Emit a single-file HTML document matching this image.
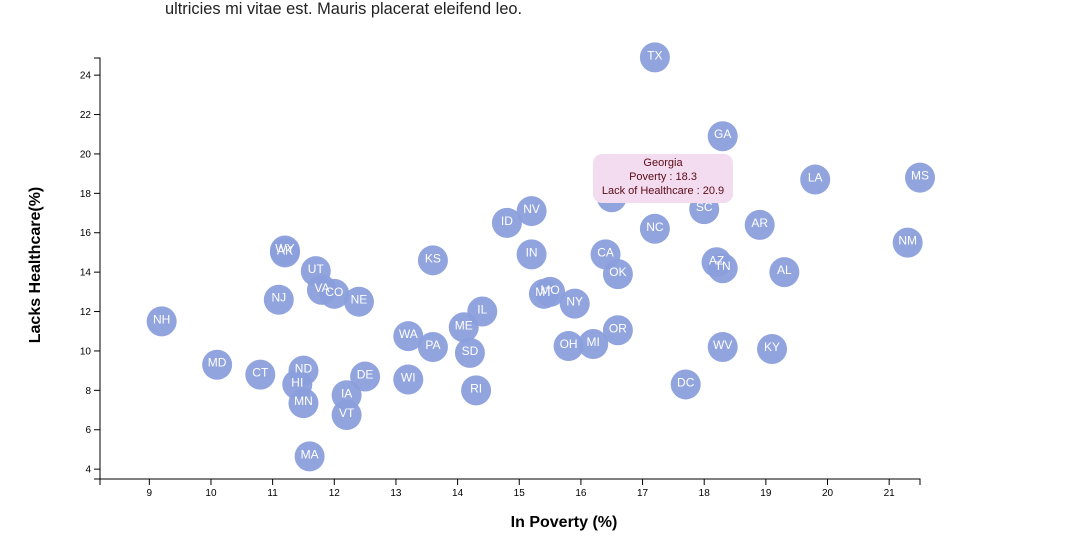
<!DOCTYPE html>
<html><head><meta charset="utf-8"><style>
body{margin:0;background:#fff;width:1086px;height:556px;overflow:hidden;font-family:"Liberation Sans",sans-serif;}
#intro{position:absolute;left:165px;top:0px;font-size:16.4px;color:#222;}
#tip{position:absolute;left:593px;top:154px;width:140px;height:49px;background:#f3dcf0;border-radius:9px;color:#5a0a14;font-size:11px;text-align:center;line-height:14px;padding-top:2px;box-sizing:border-box;}
</style></head><body>
<div id="intro">ultricies mi vitae est. Mauris placerat eleifend leo.</div>
<svg id="chart" width="1086" height="556" style="position:absolute;left:0;top:-7px"></svg>
<div id="tip">Georgia<br>Poverty : 18.3<br>Lack of Healthcare : 20.9</div>
<script>
const abbrs=["TX","GA","LA","MS","FL","NV","ID","SC","NC","AR","NM","WY","AK","KS","IN","CA","OK","AZ","TN","AL","UT","VA","CO","NJ","NE","NH","MT","MO","NY","IL","ME","WA","PA","SD","OH","MI","OR","WV","KY","MD","CT","ND","HI","MN","DE","IA","VT","WI","RI","DC","MA"];
const poverty=[17.2,18.3,19.8,21.5,16.5,15.2,14.8,18.0,17.2,18.9,21.3,11.2,11.2,13.6,15.2,16.4,16.6,18.2,18.3,19.3,11.7,11.8,12.0,11.1,12.4,9.2,15.4,15.5,15.9,14.4,14.1,13.2,13.6,14.2,15.8,16.2,16.6,18.3,19.1,10.1,10.8,11.5,11.4,11.5,12.5,12.2,12.2,13.2,14.3,17.7,11.6];
const healthcare=[24.9,20.9,18.7,18.8,17.8,17.1,16.5,17.2,16.2,16.4,15.5,15.1,15.0,14.6,14.9,14.9,13.9,14.5,14.2,14.0,14.05,13.1,12.9,12.6,12.5,11.5,12.9,13.0,12.4,12.0,11.2,10.75,10.2,9.9,10.25,10.35,11.05,10.2,10.1,9.3,8.8,9.0,8.3,7.35,8.7,7.75,6.75,8.55,8.0,8.3,4.65];
const xTicks=[9,10,11,12,13,14,15,16,17,18,19,20,21];
const yTicks=[4,6,8,10,12,14,16,18,20,22,24];
const NS="http://www.w3.org/2000/svg";
const svg=document.getElementById('chart');
const X0=100,X1=920,Y0=486,Y1=65;
const xMin=8.2,xMax=21.5,yMin=3.5,yMax=24.87;
const xs=v=>X0+(v-xMin)/(xMax-xMin)*(X1-X0);
const ys=v=>Y0-(v-yMin)/(yMax-yMin)*(Y0-Y1);
function mk(t,a,p){const e=document.createElementNS(NS,t);for(const k in a)e.setAttribute(k,a[k]);(p||svg).appendChild(e);return e;}
const xa=mk('g',{});


mk('path',{d:`M${X0},${Y0+6}V${Y0}H${X1}V${Y0+6}`,stroke:'#000',fill:'none'},xa);
xTicks.forEach(t=>{const x=xs(t);mk('line',{x1:x,x2:x,y1:Y0,y2:Y0+6,stroke:'#000'},xa);
const tx=mk('text',{x:x,y:Y0+17,'font-size':10,'text-anchor':'middle'},xa);tx.textContent=t;

});
const ya=mk('g',{});


mk('path',{d:`M${X0-6},${Y1}H${X0}V${Y0}H${X0-6}`,stroke:'#000',fill:'none'},ya);
yTicks.forEach(t=>{const y=ys(t);mk('line',{x1:X0-6,x2:X0,y1:y,y2:y,stroke:'#000'},ya);
const tx=mk('text',{x:X0-9,y:y+3.5,'font-size':10,'text-anchor':'end'},ya);tx.textContent=t;

});
const xt=mk('text',{x:564,y:534,'font-size':16,'font-weight':'bold','text-anchor':'middle'});xt.textContent='In Poverty (%)';


const yt=mk('text',{x:0,y:0,'font-size':16,'font-weight':'bold','text-anchor':'middle',transform:'translate(40,272) rotate(-90)'});yt.textContent='Lacks Healthcare(%)';


abbrs.forEach((a,i)=>{const cx=xs(poverty[i]),cy=ys(healthcare[i]);
const c=mk('circle',{cx:cx,cy:cy,r:15,fill:'#8b9fdc',opacity:0.95});

});
abbrs.forEach((a,i)=>{const cx=xs(poverty[i]),cy=ys(healthcare[i]);
const t=mk('text',{x:cx,y:cy+2,'font-size':12,fill:'#fff','text-anchor':'middle'});t.textContent=a;

});
</script>
</body></html>
